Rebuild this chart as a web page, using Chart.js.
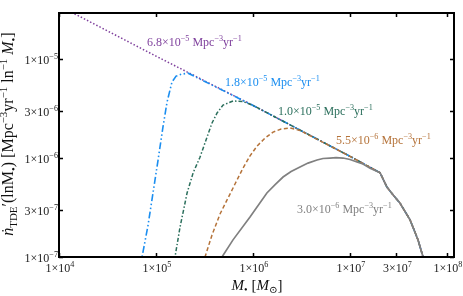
<!DOCTYPE html>
<html>
<head>
<meta charset="utf-8">
<script src="https://cdn.jsdelivr.net/npm/chart.js@4.4.1/dist/chart.umd.min.js"></script>
<style>
  html, body { margin: 0; padding: 0; background: #fff; }
  #wrap { width: 463px; height: 296px; }
</style>
</head>
<body>
<div id="wrap"><canvas id="tde" width="463" height="296"></canvas></div>
<script>
/* =========================
   DATA
   ========================= */
// power-law envelope shared by every curve, then the common high-mass cutoff
const envelopeMass = [1e4, 1e5, 1e6, 1e7];
const envelopeRate = [3.46e-5, 1.07e-5, 3.4e-6, 1.04e-6];
const tailMass = [2.04e7, 2.4e7, 2.8e7, 3.27e7, 4.16e7, 5.02e7, 5.66e7, 5.93e7];
const tailRate = [7.1e-7, 5.09e-7, 4.2e-7, 3.51e-7, 2.37e-7, 1.49e-7, 1.0e-7, 7.4e-8];

// low-mass rise of each curve before it joins the envelope
const blueMass = [6.68e4, 7.18e4, 8.28e4, 9.31e4, 1.05e5, 1.18e5, 1.3e5, 1.46e5, 1.61e5, 1.85e5, 2.14e5];
const blueRate = [7.4e-8, 1.0e-7, 2.1e-7, 4.43e-7, 9.55e-7, 2.06e-6, 3.68e-6, 5.86e-6, 6.73e-6, 7.05e-6, 7.2e-6];

const greenMass = [1.5e5, 1.57e5, 1.77e5, 2.09e5, 2.41e5, 2.84e5, 3.36e5, 3.78e5, 4.26e5, 4.91e5, 6.22e5, 7.89e5];
const greenRate = [7.4e-8, 1.0e-7, 2.01e-7, 4.43e-7, 7.05e-7, 1.02e-6, 1.63e-6, 2.26e-6, 2.85e-6, 3.43e-6, 3.77e-6, 3.72e-6];

const brownMass = [2.98e5, 3.2e5, 3.78e5, 4.57e5, 5.4e5, 6.52e5, 7.89e5, 9.31e5, 1.1e6, 1.33e6, 1.61e6, 1.95e6, 2.41e6, 3.05e6];
const brownRate = [7.4e-8, 1.0e-7, 1.67e-7, 2.72e-7, 3.77e-7, 5.46e-7, 7.92e-7, 1.05e-6, 1.32e-6, 1.59e-6, 1.83e-6, 1.96e-6, 2.01e-6, 1.9e-6];

const grayMass = [3.93e5, 4.79e5, 6.22e5, 9.31e5, 1.39e6, 1.69e6, 2.04e6, 2.47e6, 3.05e6, 3.69e6, 4.57e6,
  5.27e6, 6.22e6, 7.18e6, 8.47e6, 1e7, 1.18e7, 1.36e7, 1.61e7];
const grayRate = [7.4e-8, 1.0e-7, 1.49e-7, 2.54e-7, 4.43e-7, 5.39e-7, 6.43e-7, 7.31e-7, 8.11e-7, 8.89e-7, 9.55e-7,
  9.89e-7, 1.0e-6, 1.01e-6, 1.0e-6, 9.66e-7, 9.12e-7, 8.69e-7, 7.9e-7];

// curve labels: total rate mantissa / exponent
const rateMant = ["6.8", "1.8", "1.0", "5.5", "3.0"];
const rateExp = ["5", "5", "5", "6", "6"];

// axis ticks
const xTickValues = [1e4, 1e5, 1e6, 1e7, 3e7, 1e8];
const xTickMant = ["1", "1", "1", "1", "3", "1"];
const xTickExp = ["4", "5", "6", "7", "7", "8"];
const yTickValues = [1e-7, 3e-7, 1e-6, 3e-6, 1e-5];
const yTickMant = ["1", "3", "1", "3", "1"];
const yTickExp = ["7", "7", "6", "6", "5"];

/* =========================
   STYLE
   ========================= */
const FONT = '"Liberation Serif", "DejaVu Serif", serif';
const MINUS = "\u2212";

const styles = [
  { color: "#7e3f9c", dash: [1.5, 2], width: 1.5 },                     // 6.8e-5 dotted
  { color: "#1b8ef0", dash: [7, 2.5, 1.5, 2.5, 1.5, 2.5], width: 1.6 }, // 1.8e-5 dash-dot-dot
  { color: "#2b6f5c", dash: [4, 2, 1.5, 2], width: 1.5 },               // 1.0e-5 dash-dot
  { color: "#b5733a", dash: [4, 2.5], width: 1.5 },                     // 5.5e-6 dashed
  { color: "#808080", dash: [], width: 1.7 },                           // 3.0e-6 solid
];

// label anchors (left x, baseline y) in canvas px
const labelPos = [[147, 46], [225, 86], [278, 115], [336, 144], [297, 213]];

/* =========================
   HELPERS
   ========================= */
function pts(mass, rate) {
  return mass.map((m, i) => ({ x: m, y: rate[i] }));
}

// rise -> remaining envelope -> cutoff
function fullCurve(mass, rate) {
  const out = pts(mass, rate);
  const last = mass.length ? mass[mass.length - 1] : 0;
  envelopeMass.forEach((m, i) => {
    if (m > last) out.push({ x: m, y: envelopeRate[i] });
  });
  return out.concat(pts(tailMass, tailRate));
}

function partFont(kind, size) {
  const s = kind === "^" || kind === "_" ? size * 0.68 : size;
  return `${kind === "i" ? "italic " : ""}${s}px ${FONT}`;
}

// parts: [[text, kind]] kind: "" normal, "i" italic, "^" sup, "_" sub
function richText(ctx, parts, x, y, size, align, color) {
  ctx.textAlign = "left";
  ctx.textBaseline = "alphabetic";
  ctx.fillStyle = color;
  let w = 0;
  const widths = parts.map(([t, k]) => {
    ctx.font = partFont(k, size);
    const mw = ctx.measureText(t).width;
    w += mw;
    return mw;
  });
  let cx = align === "center" ? x - w / 2 : align === "right" ? x - w : x;
  parts.forEach(([t, k], i) => {
    ctx.font = partFont(k, size);
    const dy = k === "^" ? -size * 0.4 : k === "_" ? size * 0.22 : 0;
    ctx.fillText(t, cx, y + dy);
    cx += widths[i];
  });
}

function rateLabel(i) {
  return [
    [rateMant[i] + "×10", ""], [MINUS + rateExp[i], "^"],
    [" Mpc", ""], [MINUS + "3", "^"], ["yr", ""], [MINUS + "1", "^"],
  ];
}

/* =========================
   OVERLAY: frame, ticks, texts
   ========================= */
const overlay = {
  id: "overlay",
  afterDraw(chart) {
    const { ctx, chartArea: a } = chart;
    const xs = chart.scales.x;
    const ys = chart.scales.y;
    ctx.save();

    // frame
    ctx.strokeStyle = "#000";
    ctx.lineWidth = 2;
    ctx.setLineDash([]);
    ctx.strokeRect(a.left, a.top, a.right - a.left, a.bottom - a.top);

    // inward ticks
    ctx.lineWidth = 1.5;
    ctx.beginPath();
    xTickValues.forEach((v) => {
      const px = Math.round(xs.getPixelForValue(v)) + 0.5;
      ctx.moveTo(px, a.bottom); ctx.lineTo(px, a.bottom - 4);
      ctx.moveTo(px, a.top); ctx.lineTo(px, a.top + 4);
    });
    yTickValues.forEach((v) => {
      const py = Math.round(ys.getPixelForValue(v)) + 0.5;
      ctx.moveTo(a.left, py); ctx.lineTo(a.left + 4, py);
      ctx.moveTo(a.right, py); ctx.lineTo(a.right - 4, py);
    });
    ctx.stroke();

    // tick labels
    xTickValues.forEach((v, i) => {
      const px = xs.getPixelForValue(v);
      richText(ctx, [[xTickMant[i] + "×10", ""], [xTickExp[i], "^"]], px + 1, 272, 12, "center", "#222");
    });
    yTickValues.forEach((v, i) => {
      const py = ys.getPixelForValue(v);
      richText(ctx, [[yTickMant[i] + "×10", ""], [MINUS + yTickExp[i], "^"]], 58, py + 5, 12, "right", "#222");
    });

    // curve labels
    labelPos.forEach(([lx, ly], i) => {
      richText(ctx, rateLabel(i), lx, ly, 12, "left", styles[i].color);
    });

    // x title
    richText(ctx, [["M", "i"], ["•", "_"], [" [", ""], ["M", "i"], ["⊙", "_"], ["]", ""]],
      257, 290, 15, "center", "#111");

    // y title (rotated)
    ctx.translate(13, 134);
    ctx.rotate(-Math.PI / 2);
    richText(ctx, [
      ["ṅ", "i"], ["TDE", "_"], ["′(lnM", ""], ["•", "_"], [") [Mpc", ""],
      [MINUS + "3", "^"], ["yr", ""], [MINUS + "1", "^"], [" ln", ""], [MINUS + "1", "^"],
      [" ", ""], ["M", "i"], ["•", "_"], ["]", ""],
    ], 0, 0, 16, "center", "#111");

    ctx.restore();
  },
};

/* =========================
   CHART
   ========================= */
const curves = [
  fullCurve([], []),
  fullCurve(blueMass, blueRate),
  fullCurve(greenMass, greenRate),
  fullCurve(brownMass, brownRate),
  fullCurve(grayMass, grayRate),
];

// index 0 is drawn on top in Chart.js, so put gray first
const datasets = curves
  .map((data, i) => ({
    label: rateMant[i],
    data,
    borderColor: styles[i].color,
    borderWidth: styles[i].width,
    borderDash: styles[i].dash,
    pointRadius: 0,
    fill: false,
    tension: 0,
  }))
  .reverse();

new Chart(document.getElementById("tde"), {
  type: "line",
  data: { datasets },
  options: {
    responsive: false,
    animation: false,
    layout: { padding: { left: 59, top: 13, right: 9, bottom: 39 } },
    plugins: { legend: { display: false }, tooltip: { enabled: false } },
    scales: {
      x: { type: "logarithmic", min: 1e4, max: 1.18e8, display: false },
      y: { type: "logarithmic", min: 1e-7, max: 2.92e-5, display: false },
    },
  },
  plugins: [overlay],
});
</script>
</body>
</html>
